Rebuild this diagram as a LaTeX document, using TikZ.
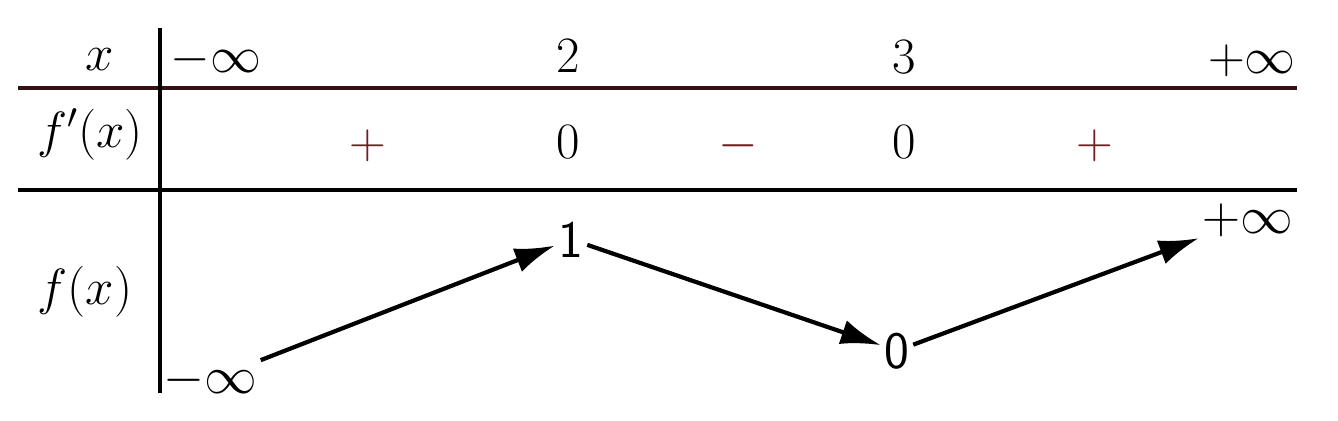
\RequirePackage{fix-cm}
\documentclass[tikz,border=0pt]{standalone}
\usetikzlibrary{arrows.meta}
\definecolor{topline}{RGB}{50,18,22}
\definecolor{signred}{RGB}{115,28,28}
\tikzset{
  lbl/.style={anchor=base, inner sep=2pt, font=\fontsize{29}{34}\selectfont},
  val/.style={anchor=base, inner sep=2pt, font=\fontsize{30}{34}\selectfont\sffamily},
  sgn/.style={lbl, text=signred},
  varrow/.style={line width=2.4pt, -{Latex[length=0.8cm,width=0.5cm]}},
}
\begin{document}
\begin{tikzpicture}[x=0.02cm,y=-0.02cm]
    \useasboundingbox (0,0) rectangle (1338,420);
    \coordinate (tl) at (18,88);
    \coordinate (tr) at (1297,88);
    \coordinate (ml) at (18,190);
    \coordinate (mr) at (1297,190);
    \coordinate (vtop) at (160,28);
    \coordinate (vbot) at (160,393);
    % draw table lines
    \draw[line width=2.3pt,topline] (tl) -- (tr);
    \draw[line width=2.3pt] (ml) -- (mr);
    \draw[line width=2.6pt] (vtop) -- (vbot);
    % first row
    \node[lbl] (xlab) at (100,70) {$x$};
    \node[lbl] (xa) at (216,72) {$-\infty$};
    \node[lbl] (xb) at (568,72) {$2$};
    \node[lbl] (xc) at (904,73) {$3$};
    \node[lbl] (xd) at (1252,73) {$+\infty$};
    % sign row
    \node[lbl] (dlab) at (90,147) {$f'(x)$};
    \node[sgn] (s1) at (368,158) {$+$};
    \node[lbl] (z1) at (568,158) {$0$};
    \node[sgn] (s2) at (738,158) {$-$};
    \node[lbl] (z2) at (904,158) {$0$};
    \node[sgn] (s3) at (1095,158) {$+$};
    % variation row
    \node[lbl] (flab) at (85,304) {$f(x)$};
    \node[val] (minf) at (210,393) {$-\infty$};
    \node[val] (one) at (571,257) {1};
    \node[val] (zero) at (897,368) {0};
    \node[val] (pinf) at (1248,233) {$+\infty$};
    \draw[varrow] (minf) -- (one);
    \draw[varrow] (one) -- (zero);
    \draw[varrow] (zero) -- (pinf);
\end{tikzpicture}
\end{document}
